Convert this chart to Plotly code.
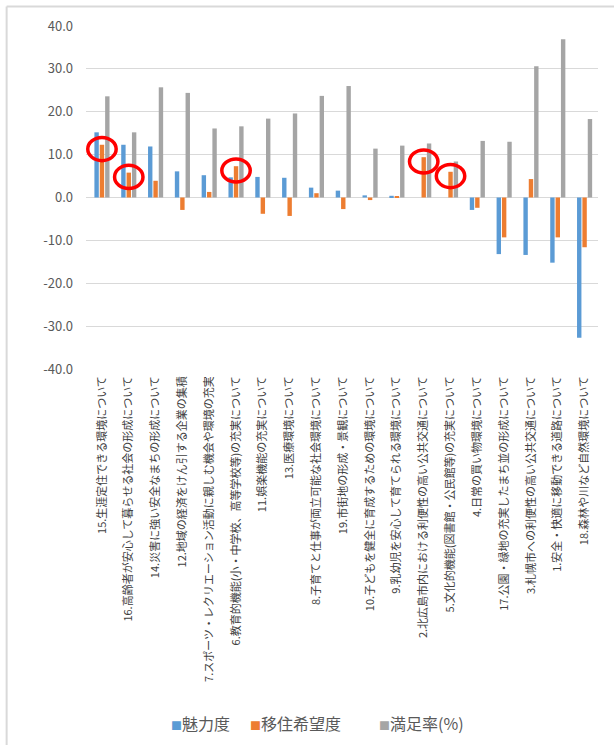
import plotly.graph_objects as go

categories = [
    "15.生涯定住できる環境について",
    "16.高齢者が安心して暮らせる社会の形成について",
    "14.災害に強い安全なまちの形成について",
    "12.地域の経済をけん引する企業の集積",
    "7.スポーツ・レクリエーション活動に親しむ機会や環境の充実",
    "6.教育的機能(小・中学校、高等学校等)の充実について",
    "11.娯楽機能の充実について",
    "13.医療環境について",
    "8.子育てと仕事が両立可能な社会環境について",
    "19.市街地の形成・景観について",
    "10.子どもを健全に育成するための環境について",
    "9.乳幼児を安心して育てられる環境について",
    "2.北広島市内における利便性の高い公共交通について",
    "5.文化的機能(図書館・公民館等)の充実について",
    "4.日常の買い物環境について",
    "17.公園・緑地の充実したまち並の形成について",
    "3.札幌市への利便性の高い公共交通について",
    "1.安全・快適に移動できる道路について",
    "18.森林や川など自然環境について",
]
miryoku = [15.2, 12.3, 11.9, 6.1, 5.2, 4.7, 4.8, 4.6, 2.3, 1.6, 0.5, 0.4, 0.0, 0.0, -2.9, -13.2, -13.4, -15.2, -32.7]
iju = [12.3, 5.8, 3.9, -2.9, 1.3, 7.3, -3.8, -4.3, 1.0, -2.7, -0.6, 0.2, 9.4, 6.0, -2.4, -9.3, 4.3, -9.3, -11.6]
manzoku = [23.6, 15.2, 25.7, 24.4, 16.1, 16.6, 18.4, 19.6, 23.7, 26.0, 11.4, 12.1, 12.6, 8.4, 13.2, 13.0, 30.6, 36.9, 18.3]
series_names = ["魅力度", "移住希望度", "満足率(%)"]
colors = ["#5B9BD5", "#ED7D31", "#A5A5A5"]
highlighted = [0, 1, 5, 12, 13]  # indices circled in red
y_ticks = [40, 30, 20, 10, 0, -10, -20, -30, -40]
legend_x = [0.162, 0.317, 0.568]  # paper positions of legend entries

FONT = "Noto Sans CJK JP"
fig = go.Figure()
for name, vals, col in zip(series_names, [miryoku, iju, manzoku], colors):
    fig.add_trace(go.Bar(x=categories, y=vals, name=name, marker_color=col,
                         marker_line_width=0, showlegend=False))

shapes = []
for i in highlighted:
    c = iju[i] - 1.0
    shapes.append(dict(type="circle", xref="x", yref="y",
                       x0=i - 0.53, x1=i + 0.53, y0=c - 2.7, y1=c + 2.7,
                       line=dict(color="#FF0000", width=3.5)))
# chart frame (left and top edges visible)
shapes.append(dict(type="line", xref="paper", yref="paper", x0=-0.155, x1=-0.155,
                   y0=1.057, y1=-1.2, line=dict(color="#D9D9D9", width=2)))
shapes.append(dict(type="line", xref="paper", yref="paper", x0=-0.155, x1=1.1,
                   y0=1.057, y1=1.057, line=dict(color="#D9D9D9", width=2)))

annotations = []
for name, col, lx in zip(series_names, colors, legend_x):
    annotations.append(dict(xref="paper", yref="paper", x=lx, y=-1.032,
                            xanchor="left", yanchor="middle", showarrow=False,
                            text=f"<span style='color:{col};font-size:11px'>■</span>{name}",
                            font=dict(size=16, color="#595959", family=FONT)))

fig.update_layout(
    width=614, height=745,
    margin=dict(l=86, r=16, t=26, b=376, autoexpand=False),
    paper_bgcolor="white", plot_bgcolor="white",
    barmode="group", bargap=0.4, bargroupgap=0.18,
    font=dict(family=FONT, color="#595959"),
    shapes=shapes, annotations=annotations,
    showlegend=False,
)
fig.update_xaxes(type="category", tickangle=-90, tickfont=dict(size=11, color="#404040", family=FONT),
                 showgrid=False, showline=False, ticks="", ticklabelstandoff=4, automargin=False)
fig.update_yaxes(range=[-40, 40], tickvals=y_ticks, ticktext=[f"{v:.1f}" for v in y_ticks],
                 showgrid=True, gridcolor="#D9D9D9", gridwidth=1,
                 zeroline=True, zerolinecolor="#D9D9D9", zerolinewidth=1,
                 tickfont=dict(size=13, color="#595959", family=FONT),
                 ticks="", ticklabelstandoff=12, showline=False, automargin=False)

fig.write_html("out.html", config={"displayModeBar": False},
               post_script="document.body.style.margin='0';document.body.style.overflow='hidden';")
